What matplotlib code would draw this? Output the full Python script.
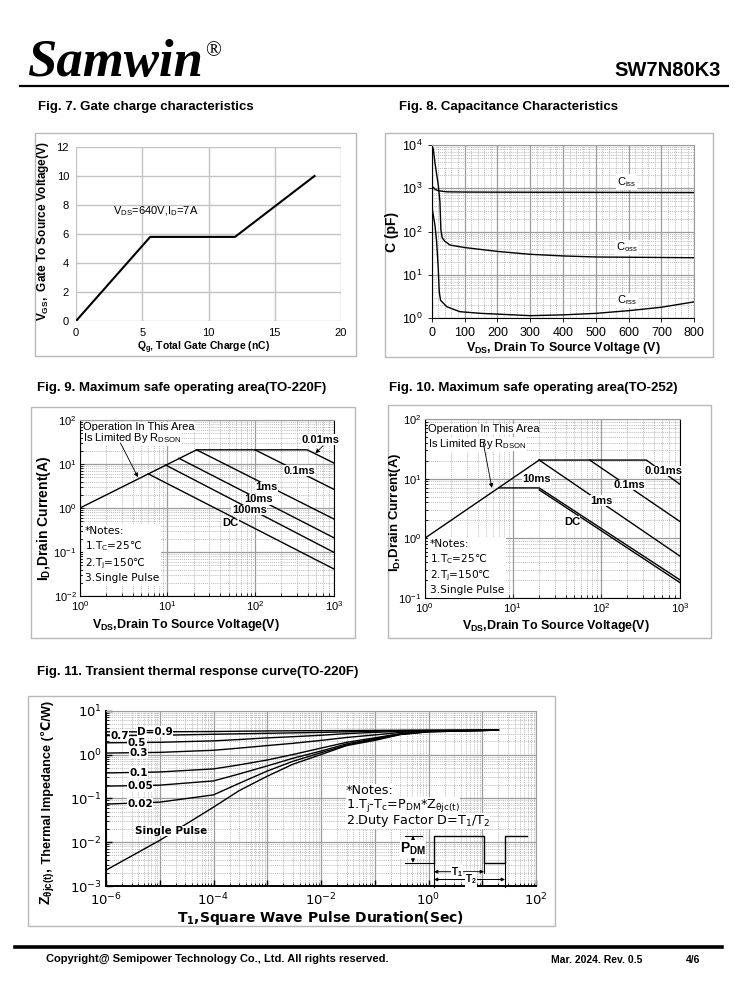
# Samwin SW7N80K3 datasheet page 4 - characteristic curves
import matplotlib
matplotlib.use('Agg')
import matplotlib.pyplot as plt
import numpy as np
from matplotlib.ticker import MultipleLocator, LogLocator, NullFormatter
from matplotlib.patches import Rectangle
from matplotlib import font_manager

plt.rcParams['font.family'] = ['Liberation Sans', 'DejaVu Sans']
plt.rcParams['mathtext.fontset'] = 'custom'
plt.rcParams['mathtext.rm'] = 'Liberation Sans'
plt.rcParams['mathtext.bf'] = 'Liberation Sans:bold'
plt.rcParams['mathtext.it'] = 'Liberation Sans:italic'
plt.rcParams['mathtext.default'] = 'regular'

# narrow font for the big thermal axis title, if there is one
try:
    font_manager.findfont(font_manager.FontProperties(family='Liberation Sans Narrow'),
                          fallback_to_default=False)
    narrow, narrow_size = 'Liberation Sans Narrow', 11
except Exception:
    narrow, narrow_size = 'Liberation Sans', 9.2

# ---------------- data ----------------
# Fig 7 gate charge
qg = [0, 5.6, 12, 18]
vgs = [0, 5.8, 5.8, 10]

# Fig 8 capacitance
ciss_v = [0.5, 10, 20, 46, 100, 200, 400, 600, 800]
ciss_c = [1150, 950, 880, 830, 820, 815, 810, 805, 800]
coss_v = [0.5, 5, 10, 20, 25, 28, 32, 40, 56, 100, 200, 300, 400, 500, 650, 800]
coss_c = [9500, 8000, 3800, 1200, 500, 110, 72, 60, 49, 43, 35, 30, 27.5, 26, 25.5, 25]
crss_v = [0.5, 3, 10, 15, 20, 23, 27, 46, 86, 150, 200, 300, 400, 500, 600, 700, 800]
crss_c = [400, 290, 140, 59, 14, 4.1, 2.6, 1.85, 1.42, 1.3, 1.25, 1.15, 1.2, 1.3, 1.5, 1.8, 2.4]

# Fig 9 SOA TO-220F  (V, I) per curve
soa9 = {
    'rds':    ([1, 21.5], [1, 21]),
    '0.01ms': ([21.5, 395, 800], [21, 21, 10.5]),
    '0.1ms':  ([100, 800], [21, 2.65]),
    '1ms':    ([21.5, 800], [21, 0.56]),
    '10ms':   ([13.5, 800], [13.5, 0.21]),
    '100ms':  ([9.5, 800], [9.5, 0.098]),
    'DC':     ([6, 800], [6, 0.041]),
}
# Fig 10 SOA TO-252
soa10 = {
    'rds':    ([1, 20], [1, 20.5]),
    '0.01ms': ([20, 330, 800], [20.5, 20.5, 8]),
    '0.1ms':  ([75, 800], [20.5, 1.9]),
    '1ms':    ([20, 800], [20.5, 0.5]),
    '10ms':   ([7, 20, 800], [7, 7, 0.2]),
    'DC':     ([20, 800], [6.5, 0.18]),
}

# Fig 11 transient thermal impedance
t_pulse = [1e-6, 1e-5, 1e-4, 3e-4, 1e-3, 3e-3, 1e-2, 3e-2, 1e-1, 3e-1, 1, 20]
zth = {
    'D=0.9': [3.3, 3.3, 3.35, 3.4, 3.45, 3.48, 3.5, 3.52, 3.55, 3.58, 3.6, 3.6],
    '0.7':   [2.7, 2.75, 2.9, 2.97, 3.05, 3.12, 3.2, 3.3, 3.4, 3.5, 3.55, 3.6],
    '0.5':   [1.85, 1.9, 2.05, 2.2, 2.4, 2.55, 2.75, 3.0, 3.2, 3.4, 3.5, 3.6],
    '0.3':   [1.08, 1.12, 1.25, 1.4, 1.6, 1.8, 2.1, 2.45, 2.8, 3.2, 3.45, 3.6],
    '0.1':   [0.38, 0.40, 0.47, 0.58, 0.75, 1.0, 1.4, 1.9, 2.4, 3.0, 3.4, 3.6],
    '0.05':  [0.19, 0.20, 0.25, 0.36, 0.55, 0.82, 1.2, 1.75, 2.3, 2.95, 3.35, 3.6],
    '0.02':  [0.074, 0.082, 0.12, 0.22, 0.42, 0.7, 1.1, 1.65, 2.2, 2.9, 3.3, 3.6],
    'Single Pulse': [0.0023, 0.011, 0.063, 0.15, 0.32, 0.6, 1.0, 1.6, 2.1, 2.85, 3.3, 3.6],
}
zth_label_pos = {
    'D=0.9': (8.1e-6, 3.3), '0.7': (1.8e-6, 2.7), '0.5': (3.8e-6, 1.86),
    '0.3': (4e-6, 1.1), '0.1': (4e-6, 0.385), '0.05': (4.3e-6, 0.19),
    '0.02': (4.3e-6, 0.075), 'Single Pulse': (1.66e-5, 0.018),
}

W, H = 738, 1000
fig = plt.figure(figsize=(W / 100, H / 100), dpi=100)


def px_rect(x0, y0, x1, y1):
    return [x0 / W, 1 - y1 / H, (x1 - x0) / W, (y1 - y0) / H]


def sup(e):
    return '$\\mathdefault{10^{%d}}$' % e


def log_grid(ax):
    ax.grid(which='major', color='#9c9c9c', lw=0.9, ls='-')
    ax.grid(which='minor', color='#a8a8a8', lw=0.6, ls=(0, (1, 1.3)))
    ax.set_axisbelow(True)


white = dict(facecolor='white', edgecolor='none', pad=0.6)

# ---------------- Fig 7 ----------------
ax7 = fig.add_axes(px_rect(76, 147, 341, 321))
ax7.plot(qg, vgs, color='black', lw=1.5)
ax7.set_xlim(0, 20)
ax7.set_ylim(0, 12)
ax7.set_xticks(range(0, 21, 5))
ax7.set_yticks(range(0, 13, 2))
ax7.grid(color='#c4c4c4', lw=1)
ax7.set_axisbelow(True)
for s in ax7.spines.values():
    s.set_visible(False)
ax7.tick_params(length=0, labelsize=8, pad=5)
ax7.text(2.8, 7.6, 'V$_{DS}$=640V,I$_D$=7A', fontsize=8, va='center')

# ---------------- Fig 8 ----------------
ax8 = fig.add_axes(px_rect(431.7, 145, 694.3, 318.3))
ax8.set_yscale('log')
ax8.plot(ciss_v, ciss_c, color='black', lw=1)
ax8.plot(coss_v, coss_c, color='black', lw=1)
ax8.plot(crss_v, crss_c, color='black', lw=1)
ax8.set_xlim(0, 800)
ax8.set_ylim(1, 1e4)
ax8.xaxis.set_major_locator(MultipleLocator(100))
ax8.xaxis.set_minor_locator(MultipleLocator(20))
ax8.set_yticks([1, 10, 100, 1000, 10000], [sup(e) for e in range(5)])
ax8.yaxis.set_minor_locator(LogLocator(base=10, subs=np.arange(2, 10)))
ax8.yaxis.set_minor_formatter(NullFormatter())
log_grid(ax8)
ax8.tick_params(labelsize=9, length=3, width=0.6)
ax8.tick_params(which='minor', length=0)
for k in ('top', 'right'):
    ax8.spines[k].set_color('#9c9c9c')
ax8.text(594, 1400, 'C$_{iss}$', fontsize=8, ha='center', va='center', bbox=white)
ax8.text(594, 43, 'C$_{oss}$', fontsize=8, ha='center', va='center', bbox=white)
ax8.text(594, 2.6, 'C$_{rss}$', fontsize=8, ha='center', va='center', bbox=white)


# ---------------- SOA helper ----------------
def soa_axes(rect, curves, ymin, labels, arrow_from, arrow_to, note_y, ann001=None):
    ax = fig.add_axes(px_rect(*rect))
    ax.set_xscale('log')
    ax.set_yscale('log')
    for v, i in curves.values():
        ax.plot(v, i, color='black', lw=1)
    ax.set_xlim(1, 800)
    ax.set_ylim(ymin, 100)
    ax.set_xticks([1, 10, 100, 800], [sup(e) for e in range(4)])
    exps = range(int(round(np.log10(ymin))), 3)
    ax.set_yticks([10.0 ** e for e in exps], [sup(e) for e in exps])
    ax.xaxis.set_minor_locator(LogLocator(base=10, subs=np.arange(2, 10)))
    ax.yaxis.set_minor_locator(LogLocator(base=10, subs=np.arange(2, 10)))
    ax.xaxis.set_minor_formatter(NullFormatter())
    ax.yaxis.set_minor_formatter(NullFormatter())
    log_grid(ax)
    ax.tick_params(labelsize=8, length=3, width=0.6, direction='in', pad=2.5)
    ax.tick_params(which='minor', length=2, direction='in')
    ax.spines['top'].set_color('#9c9c9c')
    for txt, (x, y) in labels.items():
        ax.text(x, y, txt, fontsize=8, fontweight='bold', ha='center',
                va='center', bbox=dict(facecolor='white', edgecolor='none', pad=0.2))
    ax.text(1.08, 68, 'Operation In This Area', fontsize=8, va='center',
            bbox=dict(facecolor='white', edgecolor='none', pad=0.1))
    ax.text(1.08, 38, 'Is Limited By R$_{DSON}$', fontsize=8, va='center',
            bbox=dict(facecolor='white', edgecolor='none', pad=0.1))
    ax.annotate('', xy=arrow_to, xytext=arrow_from,
                arrowprops=dict(arrowstyle='-|>', lw=0.6, color='black',
                                mutation_scale=6, shrinkA=0, shrinkB=0))
    if ann001 is not None:
        ax.annotate('', xy=ann001[1], xytext=ann001[0],
                    arrowprops=dict(arrowstyle='-|>', lw=0.6, color='black',
                                    mutation_scale=6, shrinkA=0, shrinkB=0))
    ax.text(0.02, note_y, '*Notes:\n1.T$_C$=25\u2103\n2.T$_j$=150\u2103\n3.Single Pulse',
            transform=ax.transAxes, family='DejaVu Sans', fontsize=7.6, va='top',
            linespacing=1.3, bbox=dict(facecolor='white', edgecolor='none', pad=1.5))
    return ax


soa_axes((80, 420, 334, 596), soa9, 0.01,
         {'0.01ms': (560, 36), '0.1ms': (321, 7.05), '1ms': (136, 2.95),
          '10ms': (109, 1.58), '100ms': (86, 0.9), 'DC': (52, 0.46)},
         (2.9, 30), (4.6, 5.0), 0.395, ann001=((600, 26), (490, 17.5)))
soa_axes((424.7, 419, 680.2, 598), soa10, 0.1,
         {'0.01ms': (520, 13.5), '0.1ms': (211, 7.8), '1ms': (103, 4.3),
          '10ms': (18.7, 9.8), 'DC': (47, 1.9)},
         (4.6, 42), (5.8, 7.0), 0.33)

# ---------------- Fig 11 ----------------
ax11 = fig.add_axes(px_rect(106, 710.7, 536, 886))
ax11.set_xscale('log')
ax11.set_yscale('log')
for name, z in zth.items():
    ax11.plot(t_pulse, z, color='black', lw=1)
ax11.set_xlim(1e-6, 1e2)
ax11.set_ylim(1e-3, 1e1)
xe = range(-6, 3)
ax11.set_xticks([10.0 ** e for e in xe], [sup(e) if e % 2 == 0 else '' for e in xe],
                fontfamily='DejaVu Sans', fontsize=9.5)
ye = range(-3, 2)
ax11.set_yticks([10.0 ** e for e in ye], [sup(e) for e in ye],
                fontfamily='DejaVu Sans', fontsize=9.5)
ax11.xaxis.set_minor_locator(LogLocator(base=10, subs=np.arange(2, 10)))
ax11.yaxis.set_minor_locator(LogLocator(base=10, subs=np.arange(2, 10)))
ax11.xaxis.set_minor_formatter(NullFormatter())
ax11.yaxis.set_minor_formatter(NullFormatter())
log_grid(ax11)
ax11.tick_params(length=4, width=1, direction='in', pad=3)
ax11.tick_params(axis='x', pad=4)
ax11.tick_params(which='minor', length=2, direction='in')
for k in ('left', 'bottom'):
    ax11.spines[k].set_linewidth(1.4)
for k in ('top', 'right'):
    ax11.spines[k].set_color('#9c9c9c')
for name, (x, y) in zth_label_pos.items():
    ax11.text(x, y, name, fontsize=7.5, fontweight='bold', family='DejaVu Sans',
              ha='center', va='center',
              bbox=dict(facecolor='white', edgecolor='none', pad=0.3))

# ---------------- page decorations ----------------
pg = fig.add_axes([0, 0, 1, 1], zorder=10)
pg.set_xlim(0, W)
pg.set_ylim(H, 0)
pg.axis('off')

pg.text(27, 76, 'Samwin', family=['Liberation Serif', 'DejaVu Serif'], fontsize=38,
        fontweight='bold', fontstyle='italic', va='baseline')
pg.text(205, 52, '\u00ae', family=['Liberation Serif', 'DejaVu Serif'], fontsize=15,
        va='center')
pg.text(721, 76, 'SW7N80K3', fontsize=14.5, fontweight='bold', ha='right', va='baseline')
pg.plot([20, 728], [86, 86], color='black', lw=1.6)

titles = [(38, 107, 'Fig. 7. Gate charge characteristics'),
          (399, 107, 'Fig. 8. Capacitance Characteristics'),
          (37, 388, 'Fig. 9. Maximum safe operating area(TO-220F)'),
          (389, 388, 'Fig. 10. Maximum safe operating area(TO-252)'),
          (37, 672, 'Fig. 11. Transient thermal response curve(TO-220F)')]
for x, y, t in titles:
    pg.text(x, y, t, fontsize=9.5, fontweight='bold', va='center')

for x0, y0, x1, y1 in [(35, 133, 356, 356), (385, 133, 713, 357), (31, 407, 355, 638),
                       (388, 405, 711, 638), (28, 696, 555, 926)]:
    pg.add_patch(Rectangle((x0, y0), x1 - x0, y1 - y0, fill=False,
                           edgecolor='#b8b8b8', lw=1))

# axis titles
pg.text(43, 231, 'V$_{GS}$,  Gate To Source Voltage(V)', fontsize=8.5, fontweight='bold',
        rotation=90, ha='center', va='center')
pg.text(204, 348, 'Q$_g$, Total Gate Charge (nC)', fontsize=7.5, fontweight='bold',
        ha='center', va='center')
pg.text(392, 232, 'C (pF)', fontsize=10, fontweight='bold', rotation=90,
        ha='center', va='center')
pg.text(563, 348, 'V$_{DS}$, Drain To Source Voltage (V)', fontsize=9,
        fontweight='bold', ha='center', va='center')
pg.text(44, 518, 'I$_D$,Drain Current(A)', fontsize=10, fontweight='bold',
        rotation=90, ha='center', va='center')
pg.text(186, 625, 'V$_{DS}$,Drain To Source Voltage(V)', fontsize=9,
        fontweight='bold', ha='center', va='center')
pg.text(395, 512, 'I$_D$,Drain Current(A)', fontsize=9.5, fontweight='bold',
        rotation=90, ha='center', va='center')
pg.text(556, 626, 'V$_{DS}$,Drain To Source Voltage(V)', fontsize=9,
        fontweight='bold', ha='center', va='center')

# thermal impedance title in two pieces, so that the Celsius sign can fall back
zt1 = pg.text(51, 905, 'Z$_{\\theta jc(t)}$,', family=narrow, fontsize=narrow_size + 1,
              fontweight='bold', rotation=90, rotation_mode='anchor',
              ha='left', va='baseline')
pg.annotate(' Thermal Impedance (\u2103/W)', xy=(51, 1.0), xycoords=('data', zt1),
            family=[narrow, 'DejaVu Sans'], fontsize=narrow_size, fontweight='bold',
            rotation=90, rotation_mode='anchor', ha='left', va='baseline')
pg.text(321, 918, 'T$_1$,Square Wave Pulse Duration(Sec)', family='DejaVu Sans',
        fontsize=10, fontweight='bold', ha='center', va='center')

# Fig 11 notes and pulse sketch
for y, t in [(791, '*Notes:'), (806, '1.T$_j$-T$_c$=P$_{DM}$*Z$_{\\theta jc(t)}$'),
             (821, '2.Duty Factor D=T$_1$/T$_2$')]:
    pg.text(346, y, t, family='DejaVu Sans', fontsize=9.2, va='center',
            bbox=dict(facecolor='white', edgecolor='none', pad=0.1))
hi, lo = 835.7, 862.7
pg.plot([434, 434, 484, 484, 505, 505, 527], [lo, hi, hi, lo, lo, hi, hi],
        color='black', lw=1)
pg.plot([434, 434], [lo, 886.7], color='black', lw=0.8)
pg.plot([484, 484], [lo, 873], color='black', lw=0.8)
pg.plot([505, 505], [lo, 886.7], color='black', lw=0.8)
pg.plot([405, 422], [hi, hi], color='black', lw=0.8)
pg.plot([405, 434], [lo, lo], color='black', lw=0.8)
pg.annotate('', xy=(413, hi), xytext=(413, lo),
            arrowprops=dict(arrowstyle='<|-|>', lw=0.7, color='black', mutation_scale=5,
                            shrinkA=0, shrinkB=0))
pg.text(413, 849, 'P$_{DM}$', fontsize=10, fontweight='bold', ha='center', va='center',
        bbox=dict(facecolor='white', edgecolor='none', pad=0.3))
pg.annotate('', xy=(484, 871.7), xytext=(434, 871.7),
            arrowprops=dict(arrowstyle='<|-|>', lw=0.7, color='black', mutation_scale=5,
                            shrinkA=0, shrinkB=0))
pg.text(457, 871.7, 'T$_1$', fontsize=7, fontweight='bold', ha='center', va='center',
        bbox=dict(facecolor='white', edgecolor='none', pad=0.2))
pg.annotate('', xy=(505, 879.5), xytext=(434, 879.5),
            arrowprops=dict(arrowstyle='<|-|>', lw=0.7, color='black', mutation_scale=5,
                            shrinkA=0, shrinkB=0))
pg.text(471, 879.5, 'T$_2$', fontsize=7, fontweight='bold', ha='center', va='center',
        bbox=dict(facecolor='white', edgecolor='none', pad=0.2))

# footer
pg.plot([15, 722], [947, 947], color='black', lw=2.6)
pg.text(46, 959, 'Copyright@ Semipower Technology Co., Ltd. All rights reserved.',
        fontsize=8, fontweight='bold', va='center')
pg.text(551, 960, 'Mar. 2024. Rev. 0.5', fontsize=7.5, fontweight='bold', va='center')
pg.text(686, 960, '4/6', fontsize=7.5, fontweight='bold', va='center')

fig.savefig('out.png', dpi=100, facecolor='white')
